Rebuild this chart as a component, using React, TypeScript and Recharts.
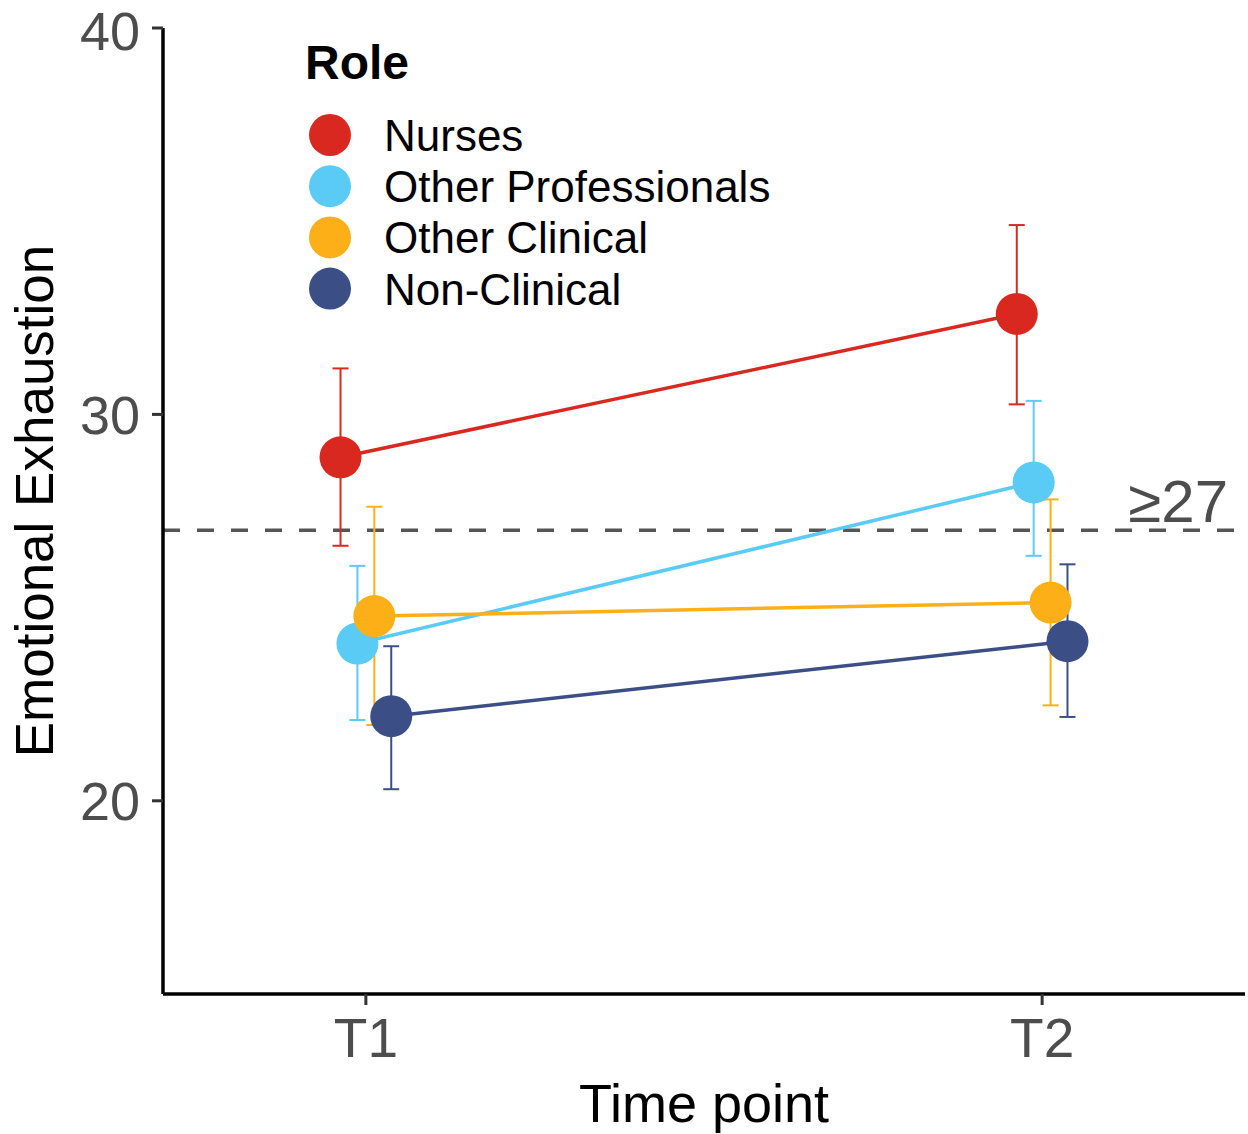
import React from 'react';
import {
  LineChart,
  Line,
  XAxis,
  YAxis,
  ErrorBar,
  ReferenceLine,
  Legend,
} from 'recharts';

const FONT = '"Liberation Sans", Arial, sans-serif';

const timeLabels = ['T1', 'T2'];
const roles = ['Nurses', 'Other Professionals', 'Other Clinical', 'Non-Clinical'];
const roleColors = ['#D9281F', '#59CBF5', '#FDAF17', '#3B4F86'];
// position_dodge(width = 0.1) offsets, in x units
const dodge = [-0.0375, -0.0125, 0.0125, 0.0375];

const meanT1 = [28.89, 24.07, 24.78, 22.19];
const lowT1 = [26.6, 22.09, 21.96, 20.3];
const highT1 = [31.19, 26.08, 27.61, 24.0];

const meanT2 = [32.6, 28.24, 25.13, 24.13];
const lowT2 = [30.26, 26.34, 22.47, 22.17];
const highT2 = [34.9, 30.35, 27.8, 26.12];

const cutoff = 27;
const yTicks = [20, 30, 40];

const seriesData = roles.map((role, i) => [
  { x: 1 + dodge[i], y: meanT1[i], err: [meanT1[i] - lowT1[i], highT1[i] - meanT1[i]] },
  { x: 2 + dodge[i], y: meanT2[i], err: [meanT2[i] - lowT2[i], highT2[i] - meanT2[i]] },
]);

const RoleLegend = () => (
  <svg width={820} height={330} style={{ display: 'block' }}>
    <text x={305} y={79} fontSize={48} fontWeight="bold" fill="#000" fontFamily={FONT}>
      Role
    </text>
    {roles.map((r, i) => (
      <g key={r}>
        <circle cx={330} cy={135 + i * 51.2} r={21} fill={roleColors[i]} />
        <text x={384} y={151 + i * 51.2} fontSize={44} fill="#000" fontFamily={FONT}>
          {r}
        </text>
      </g>
    ))}
  </svg>
);

const App: React.FC = () => {
  return (
    <div style={{ position: 'absolute', left: 0, top: 0, background: '#fff', fontFamily: FONT }}>
      <LineChart width={1248} height={1134} margin={{ top: 28, right: 3, left: 0, bottom: 0 }}>
        <XAxis
          type="number"
          dataKey="x"
          domain={[0.7, 2.3]}
          allowDataOverflow
          ticks={[1, 2]}
          tickFormatter={(v) => timeLabels[Math.round(v) - 1]}
          height={140}
          tickSize={11}
          tickMargin={13}
          tick={{ fontSize: 55, fill: '#4d4d4d', fontFamily: FONT }}
          tickLine={{ stroke: '#333', strokeWidth: 3 }}
          axisLine={{ stroke: '#000', strokeWidth: 3.5 }}
          label={{
            content: (p: any) => {
              const vb = p.viewBox || {};
              return (
                <text
                  x={vb.x + vb.width / 2}
                  y={1122}
                  textAnchor="middle"
                  fontSize={54}
                  fill="#000"
                  fontFamily={FONT}
                >
                  Time point
                </text>
              );
            },
          }}
        />
        <YAxis
          type="number"
          domain={[15, 40]}
          allowDataOverflow
          ticks={yTicks}
          width={163}
          tickSize={11}
          tickMargin={12}
          tick={{ fontSize: 54, fill: '#4d4d4d', fontFamily: FONT }}
          tickLine={{ stroke: '#333', strokeWidth: 3 }}
          axisLine={{ stroke: '#000', strokeWidth: 3.5 }}
          label={{
            content: () => (
              <text
                x={53}
                y={501}
                transform="rotate(-90 53 501)"
                textAnchor="middle"
                fontSize={53}
                fill="#000"
                fontFamily={FONT}
              >
                Emotional Exhaustion
              </text>
            ),
          }}
        />
        <ReferenceLine
          y={cutoff}
          stroke="#555"
          strokeWidth={3.5}
          strokeDasharray="17 17"
          label={{
            content: (p: any) => {
              const vb = p.viewBox || {};
              return (
                <text
                  x={vb.x + vb.width - 17}
                  y={vb.y - 8}
                  textAnchor="end"
                  fontSize={60}
                  fill="#4d4d4d"
                  fontFamily={FONT}
                >
                  {'\u2265' + cutoff}
                </text>
              );
            },
          }}
        />
        {roles.map((role, i) => (
          <Line
            key={role}
            data={seriesData[i]}
            dataKey="y"
            name={role}
            type="linear"
            stroke={roleColors[i]}
            strokeWidth={3.5}
            dot={{ r: 21, fill: roleColors[i], stroke: roleColors[i], strokeWidth: 0 }}
            activeDot={false}
            isAnimationActive={false}
          >
            <ErrorBar dataKey="err" direction="y" width={8} strokeWidth={2} stroke={roleColors[i]} />
          </Line>
        ))}
        <Legend
          layout="vertical"
          align="center"
          verticalAlign="middle"
          wrapperStyle={{ top: 0, left: 0, width: 820, height: 330 }}
          content={() => <RoleLegend />}
        />
      </LineChart>
    </div>
  );
};

export default App;
